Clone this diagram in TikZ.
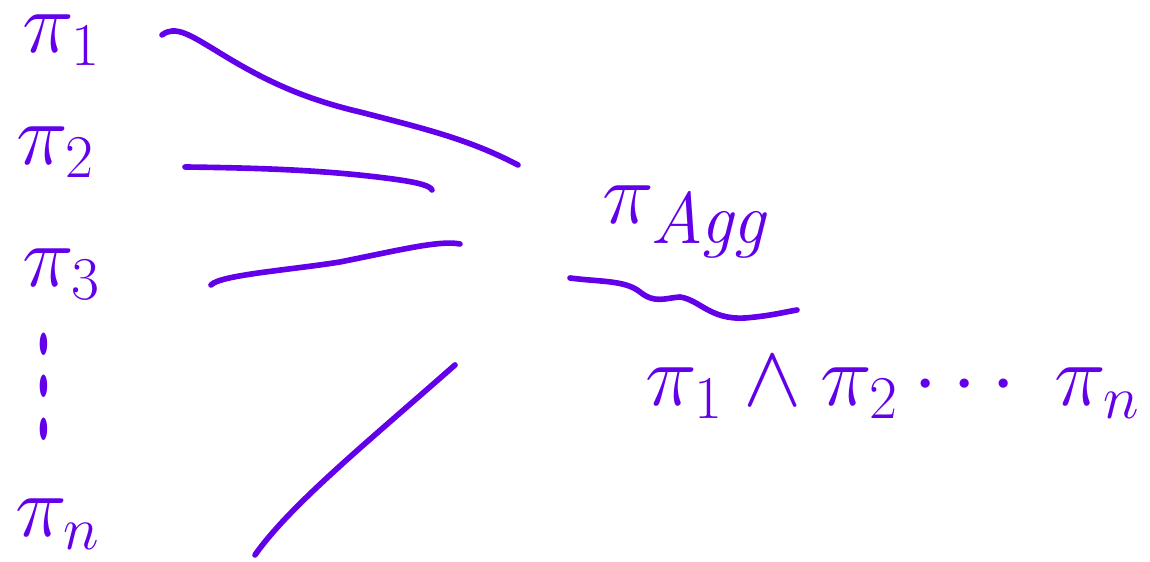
\documentclass[tikz,border=0pt]{standalone}
\usepackage{amsmath}
\usepackage{graphicx}
\definecolor{pen}{HTML}{6200EA}
\tikzset{
  ink/.style={draw=pen, line width=1.6pt, line cap=round, line join=round},
  lbl/.style={text=pen, font=\fontsize{26}{30}\selectfont, inner sep=0pt},
}
\begin{document}
\begin{tikzpicture}[x=0.01cm,y=-0.01cm]
\useasboundingbox (0,0) rectangle (1150,562);
% left labels
\node[lbl] (p1) at (62,40) {$\pi_1$};
\node[lbl] (p2) at (56,152) {$\pi_2$};
\node[lbl] (p3) at (62,274) {$\pi_3$};
\node[lbl] (vd) at (44,355) {\scalebox{1}[3.0]{$\vdots$}};
\node[lbl] (pn) at (58,524) {$\pi_n$};
% right labels
\node[lbl, font=\fontsize{30}{34}\selectfont] (agg) at (688,222) {$\pi_{\mathit{Agg}}$};
\node[lbl] (conj) at (893,388) {$\pi_1 \wedge \pi_2 \cdots\; \pi_n$};
% line end points
\coordinate (a1) at (162,35);
\coordinate (b1) at (518,165);
\coordinate (a2) at (185,167);
\coordinate (b2) at (432,190);
\coordinate (a3) at (211,285);
\coordinate (b3) at (460,244);
\coordinate (an) at (255,555);
\coordinate (bn) at (455,365);
\coordinate (t0) at (570,278);
\coordinate (t1) at (797,310);
% converging lines
\draw[ink] (a1) .. controls (175,25) and (190,35) .. (215,50)
  .. controls (260,78) and (300,98) .. (360,112)
  .. controls (430,130) and (470,140) .. (b1);
\draw[ink] (a2) .. controls (260,168) and (330,170) .. (400,180)
  .. controls (420,183) and (430,186) .. (b2);
\draw[ink] (a3) .. controls (220,275) and (290,270) .. (340,262)
  .. controls (400,250) and (440,240) .. (b3);
\draw[ink] (an) .. controls (290,505) and (370,440) .. (bn);
% tilde underline
\draw[ink] (t0) .. controls (600,282) and (625,280) .. (640,292)
  .. controls (655,304) and (665,298) .. (680,297)
  .. controls (700,300) and (710,320) .. (745,318)
  .. controls (770,316) and (785,312) .. (t1);
\end{tikzpicture}
\end{document}
